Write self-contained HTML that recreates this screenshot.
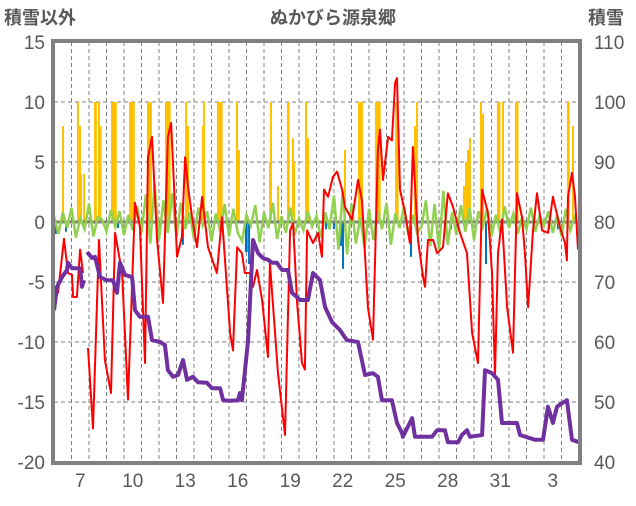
<!DOCTYPE html>
<html><head><meta charset="utf-8">
<style>
body{margin:0;background:#fff;}
svg text{font-family:"Liberation Sans","Noto Sans CJK JP",sans-serif;fill:#595959;}
</style></head>
<body>
<svg id="chart" width="636" height="501" viewBox="0 0 636 501" xmlns="http://www.w3.org/2000/svg">
<text x="333" y="24" font-size="18" text-anchor="middle" font-weight="bold">ぬかびら源泉郷</text>
<text x="4" y="24" font-size="18" font-weight="bold">積雪以外</text>
<text x="588" y="24" font-size="18" font-weight="bold">積雪</text>
<g id="grid"></g>
<g id="bars"></g>
<g id="lines"></g>
<g id="axes"></g>
</svg>
<script>
const dayLabels=[7,10,13,16,19,22,25,28,31,3];
const dayLabelT=[1,4,7,10,13,16,19,22,25,28];
const leftTicks=[15,10,5,0,-5,-10,-15,-20];
const rightTicks=[110,100,90,80,70,60,50,40];
const redT=[0,0.23,0.57,0.8,1.03,1.09,1.31,1.49,1.66,null,1.94,2.23,2.57,2.91,3.26,3.49,3.66,3.89,4.23,4.63,4.91,5.2,5.37,5.6,5.89,6.23,6.51,6.69,6.86,7.03,7.31,7.49,7.66,7.89,8.17,8.46,8.8,9.31,9.6,10.06,10.23,10.46,10.74,10.91,11.2,11.37,11.6,11.89,12.23,12.34,12.8,13.2,13.49,13.66,13.89,14.17,14.34,14.46,14.8,15.09,15.31,15.43,15.66,15.94,16.17,16.46,16.63,17.03,17.37,17.6,17.94,18.23,18.51,18.63,18.8,19.09,19.31,19.49,19.6,19.77,20.06,20.34,20.51,20.8,21.09,21.2,21.37,21.66,21.89,22.23,22.51,22.8,23.2,23.6,23.89,24.23,24.46,24.8,25.03,25.2,25.37,25.6,25.89,26.23,26.46,26.74,26.91,27.09,27.37,27.6,27.89,28.23,28.51,28.91,29.2,29.31,29.37,29.6,29.77,29.94];
const redV=[-5.4,-5.9,-1.4,-4.25,-4.4,-6.25,-6.25,-2.3,-4.25,null,-10.5,-17.2,-1.5,-11.5,-14.25,-0.9,-2.3,-4.25,-14.8,1.6,-0.4,-11.75,5.4,7.1,-1.5,-6.75,7.1,8.25,2.9,-2.9,-1.25,5.4,2.9,0.4,-2.1,2.1,-2.1,-4.25,0.4,-9.25,-10.7,-2.1,-2.6,-4.25,-4.25,-5.4,-4,-6.5,-11.25,-3.4,-12.6,-17.75,-0.7,-0.1,-6.75,-11.75,-12.3,-0.7,-1.75,-0.9,-2.9,2.7,2.1,3.75,4.2,2.7,1.25,0.2,3.5,1.8,-7.1,-9.8,6,7.7,3.5,7.1,6.8,11.6,12,2.7,0.75,-1.75,6.25,-1.5,-4.6,-5.4,-1.5,-1.5,-2.6,-2.1,2.4,1.25,-0.9,-2.6,-9.25,-11.75,2.7,0.75,-4.25,-12.75,-2.6,0.2,-7.1,-10.9,2.4,0.4,-2.6,-7.1,-0.7,2.4,-0.7,-0.9,2.1,-0.4,-1.75,-3.2,2.1,4.1,2.1,-2.3];
const snowT=[0,0.17,0.46,0.74,0.8,1.03,1.49,1.6,1.71,null,1.89,2.17,2.34,2.63,3.03,3.37,3.6,3.77,4.06,4.46,4.63,4.91,5.37,5.6,6.06,6.34,6.51,6.8,7.09,7.37,7.6,7.94,8.23,8.74,9.03,9.49,9.66,10.06,10.51,10.63,10.74,11.09,11.37,11.66,11.94,12.23,12.46,12.74,13.03,13.37,13.6,14.06,14.51,14.8,15.2,15.49,15.89,16.34,16.74,17.37,17.77,18.23,18.51,18.74,19.31,19.6,19.89,19.94,20.46,20.63,21.6,21.89,22.34,22.51,23.09,23.31,23.6,23.77,24.46,24.63,25.03,25.37,25.6,26.46,26.63,27.49,27.94,28.23,28.51,28.74,29.03,29.31,29.6,30];
const snowV=[65.3,69.2,70.8,72,73.2,72.3,72.3,69.2,70.3,null,75,74,74.2,70.8,70.3,70.3,68.2,73.2,71.2,70.8,65.3,64.2,64.2,60.3,60,59.5,55.3,54.2,54.5,57,53.7,54.2,53.3,53.2,52.3,52.3,50.3,50.2,50.3,51.5,50.3,60.3,77,74.8,74,73.7,73.2,73.2,72,72,68.2,67,67,71.5,70.3,65.8,63.3,62,60.3,60,54.5,54.8,54.2,50.3,50.3,46.5,44.8,44.2,47.3,44.2,44.2,45.3,45.3,43.3,43.3,44.5,45.3,44.2,44.5,55.3,54.8,53.7,46.5,46.5,44.5,43.7,43.7,49.2,46.5,49.2,49.8,50.3,43.7,43.3];
const windV=[0.5,-1,0.8,-0.5,1.2,-1.3,0.3,-0.6,1.5,-1.2,0.4,0.2,-0.8,1,-0.4,0.9,-1.1,0.6,-0.7,1.3,-0.9,2.3,-1.8,3.2,-1.5,1.8,-0.9,2.4,-1.2,1.6,-0.6,0.8,-1.4,1.2,-0.3,0.9,-1.6,0.7,-0.8,1.5,-1.2,1.1,-0.9,-1.6,0.6,-0.3,1.4,-1.7,0.8,-0.5,1.6,-1.4,0.5,-0.9,1.2,-1.1,0.3,-0.7,0.9,-0.4,0.5,-1.3,0.8,-0.6,2.2,-2.3,2.6,-2.7,1.5,-1.8,0.4,-2.2,1.1,-1.5,0.9,-0.6,1.6,-1.9,0.7,-0.5,1.3,-1.1,0.6,-0.9,-0.4,1.8,-2,1.5,-2.3,2.6,-1.9,0.8,-1.1,1.4,-0.8,1.2,-1.5,0.9,-0.4,1.1,-1.2,0.6,-0.9,1.3,-0.5,0.7,-1,0.4,-0.6,1.2,-0.8,0.5,-0.3,0.9,-0.9,0.6,-1.2,1.1,-0.7,0.4,-0.5];
const precipT=[0.46,1.31,1.43,1.49,1.66,2.29,2.51,2.6,3.26,4.29,5.31,6.34,7.49,7.6,8.46,8.51,9.31,10.4,10.51,12.29,12.34,12.74,13.31,13.6,13.66,14.34,14.46,16.57,17.37,18.34,19.49,20.57,20.69,23.37,23.49,23.6,23.71,24.34,24.46,25.31,25.6,26.34,29.31,29.6];
const precipH=[1,1,1,1,1,3,1,1,7,7,6,7,1,1,1,1,7,1,1,1,1,1,3,1,1,2,1,1,6,7,4,1,1,1,1,1,1,1,1,4,1,4,3,1];
const precipV=[8,10,8,4,4,10,10,8,10,10,10,10,10,8,8,10,10,10,6,5,10,3,10,7,5,10,7,6,10,10,10,8,10,3,5,6,7,10,9,10,10,10,10,8];
const changeT=[0,0.63,3.6,7.31,10.91,11.09,15.49,15.94,16.34,16.46,20.34,22.63,24.63,28.23,28.74];
const changeH=[3,1,1,1,3,1,1,1,1,1,2,1,1,1,1];
const changeV=[-1,-0.8,-0.5,-1.9,-2.5,-3.5,-0.6,-0.6,-2,-3.9,-2.9,-0.6,-3.5,-0.6,-0.6];

const X0=54,X1=579,YT=42,YB=462,NDAYS=30;
const xs=t=>X0+t*(X1-X0)/NDAYS;
const yL=v=>YB-(v+20)*(YB-YT)/35;
const yR=v=>YB-(v-40)*(YB-YT)/70;
const NS='http://www.w3.org/2000/svg';
function mk(tag,parent){const e=document.createElementNS(NS,tag);parent.appendChild(e);return e;}
const grid=document.getElementById('grid'),bars=document.getElementById('bars'),lines=document.getElementById('lines'),axes=document.getElementById('axes');

leftTicks.forEach((v,i)=>{
  if(v!==15&&v!==-20&&v!==0){
    const l=mk('line',grid);
    
    
    l.setAttribute('x1',X0);l.setAttribute('x2',X1);l.setAttribute('y1',yL(v));l.setAttribute('y2',yL(v));
    l.setAttribute('stroke','#808080');l.setAttribute('stroke-width','1');l.setAttribute('stroke-dasharray','4 3');
  }
  const t=mk('text',axes);
  
  
  t.setAttribute('x',45);t.setAttribute('y',yL(v)+7);t.setAttribute('font-size','19');t.setAttribute('text-anchor','end');
  t.textContent=v;
  const r=mk('text',axes);
  
  
  r.setAttribute('x',594);r.setAttribute('y',yR(rightTicks[i])+7);r.setAttribute('font-size','19');
  r.textContent=rightTicks[i];
});
for(let d=1;d<NDAYS;d++){
  const l=mk('line',grid);
  
  
  l.setAttribute('x1',xs(d));l.setAttribute('x2',xs(d));l.setAttribute('y1',YT);l.setAttribute('y2',YB);
  l.setAttribute('stroke','#808080');l.setAttribute('stroke-width','1');l.setAttribute('stroke-dasharray','4 3');
}
dayLabels.forEach((d,i)=>{
  const t=mk('text',axes);
  
  
  t.setAttribute('x',xs(dayLabelT[i]+0.5));t.setAttribute('y',487);t.setAttribute('font-size','19');t.setAttribute('text-anchor','middle');
  t.textContent=d;
});
function drawBars(T,H,V,color,name){
  T.forEach((t,i)=>{
    const r=mk('rect',bars);
    
    
    const x=xs(t),w=Math.max(2,H[i]*(X1-X0)/NDAYS/24+0.6);
    const y0=yL(0),y1=yL(V[i]);
    r.setAttribute('x',x);r.setAttribute('width',w);
    r.setAttribute('y',Math.min(y0,y1));r.setAttribute('height',Math.abs(y1-y0));
    r.setAttribute('fill',color);
  });
}
drawBars(precipT,precipH,precipV,'#FFC000','precip-bar');
drawBars(changeT,changeH,changeV,'#0070C0','snow-change-bar');

const z=mk('line',lines);


z.setAttribute('x1',X0);z.setAttribute('x2',X1);z.setAttribute('y1',yL(0));z.setAttribute('y2',yL(0));
z.setAttribute('stroke','#808080');z.setAttribute('stroke-width','3');

function pathFrom(T,V,fy){
  let d='',pen=false;
  T.forEach((t,i)=>{
    if(t===null||V[i]===null){pen=false;return;}
    d+=(pen?'L':'M')+xs(t).toFixed(1)+' '+fy(V[i]).toFixed(1)+' ';pen=true;
  });
  return d;
}
const windT=windV.map((v,i)=>i*0.25);
const g=mk('path',lines);


g.setAttribute('d',pathFrom(windT,windV,yL));
g.setAttribute('fill','none');g.setAttribute('stroke','#92D050');g.setAttribute('stroke-width','2.5');

const rp=mk('path',lines);


rp.setAttribute('d',pathFrom(redT,redV,yL));
rp.setAttribute('fill','none');rp.setAttribute('stroke','#FF0000');rp.setAttribute('stroke-width','2');rp.setAttribute('stroke-linejoin','round');

const sp=mk('path',lines);


sp.setAttribute('d',pathFrom(snowT,snowV,yR));
sp.setAttribute('fill','none');sp.setAttribute('stroke','#7030A0');sp.setAttribute('stroke-width','4');sp.setAttribute('stroke-linejoin','round');

const b=mk('rect',axes);


b.setAttribute('x',X0-1);b.setAttribute('y',YT-1);b.setAttribute('width',X1-X0+2);b.setAttribute('height',YB-YT+2);
b.setAttribute('fill','none');b.setAttribute('stroke','#808080');b.setAttribute('stroke-width','4');
</script>
</body></html>
